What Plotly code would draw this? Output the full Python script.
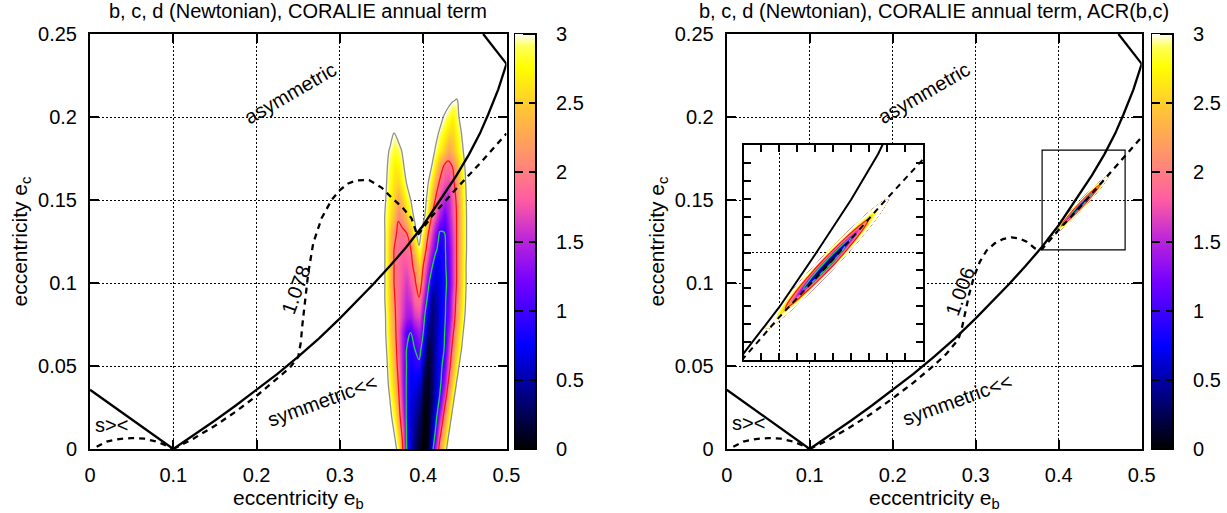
import numpy as np
import plotly.graph_objects as go

W, H = 1227, 513

# ---------------- axis ticks / labels ----------------
X_TICKS = [0, 0.1, 0.2, 0.3, 0.4, 0.5]
Y_TICKS = [0, 0.05, 0.1, 0.15, 0.2, 0.25]
CB_TICKS = [0, 0.5, 1, 1.5, 2, 2.5, 3]
CB_LABELS = ["0", "0.5", "1", "1.5", "2", "2.5", "3"]
TITLES = ["b, c, d (Newtonian), CORALIE annual term",
          "b, c, d (Newtonian), CORALIE annual term, ACR(b,c)"]

# ---------------- curves ----------------
EB_SOLID = [0.1, 0.125, 0.15, 0.175, 0.2, 0.225, 0.25, 0.275, 0.3, 0.32, 0.34, 0.36, 0.38,
            0.4, 0.42, 0.44, 0.455, 0.468, 0.478, 0.49, 0.5]
EC_SOLID = [0.0, 0.0085, 0.0172, 0.0262, 0.0355, 0.0453, 0.0556, 0.0667, 0.0787, 0.0887, 0.0992,
            0.1102, 0.1218, 0.1348, 0.1495, 0.1648, 0.1775, 0.19, 0.2015, 0.2165, 0.232]
EB_LEFTLINE = [0.0, 0.1]
EC_LEFTLINE = [0.0357, 0.0]
EB_TOPLINE = [0.472, 0.5]
EC_TOPLINE = [0.25, 0.232]
EB_SDASH = [0.008, 0.02, 0.035, 0.05, 0.065, 0.08, 0.09, 0.1]
EC_SDASH = [0.0014, 0.0045, 0.006, 0.0066, 0.0062, 0.0045, 0.0025, 0.0]

EB_D1078 = [0.1, 0.125, 0.15, 0.175, 0.2, 0.225, 0.24, 0.25, 0.253, 0.255, 0.258, 0.262, 0.268,
            0.278, 0.29, 0.3, 0.31, 0.32, 0.335, 0.35, 0.362, 0.375, 0.386, 0.393, 0.41, 0.44,
            0.468, 0.5]
EC_D1078 = [0.0, 0.0065, 0.014, 0.0225, 0.032, 0.0425, 0.049, 0.0555, 0.064, 0.075, 0.09, 0.106,
            0.124, 0.139, 0.15, 0.156, 0.16, 0.1618, 0.162, 0.1575, 0.1515, 0.1455, 0.139, 0.1285,
            0.14, 0.157, 0.172, 0.19]

EB_D1006 = [0.1, 0.125, 0.15, 0.175, 0.2, 0.225, 0.25, 0.265, 0.275, 0.28, 0.283, 0.287, 0.292,
            0.298, 0.305, 0.313, 0.323, 0.333, 0.343, 0.353, 0.3614, 0.371, 0.3775, 0.38, 0.4,
            0.428, 0.458, 0.48, 0.5]
EC_D1006 = [0.0, 0.0062, 0.0135, 0.0215, 0.0305, 0.04, 0.0505, 0.0575, 0.0635, 0.0675, 0.072,
            0.082, 0.093, 0.104, 0.1128, 0.1195, 0.1239, 0.1265, 0.1275, 0.1268, 0.1249, 0.121,
            0.1199, 0.1205, 0.132, 0.147, 0.164, 0.176, 0.188]

# ---------------- left panel field (grid) ----------------
EB_GRID = [0.350, 0.355, 0.360, 0.365, 0.370, 0.375, 0.380, 0.385, 0.390, 0.395, 0.400,
           0.405, 0.410, 0.415, 0.420, 0.425, 0.430, 0.435, 0.440, 0.445, 0.450, 0.455]
EC_GRID = [0.00, 0.01, 0.02, 0.03, 0.04, 0.05, 0.06, 0.07, 0.08, 0.09, 0.10, 0.11,
           0.12, 0.13, 0.14, 0.15, 0.16, 0.17, 0.18, 0.19, 0.20, 0.21, 0.22]
Z_LEFT = [
    [4, 4, 4, 3.4, 2.75, 2.1, 1, 0.6, 0.3, 0.12, 0, 0.05, 0.7, 1.5, 2.2, 2.7, 3.2, 3.7, 4, 4, 4, 4],
    [4, 4, 3.53, 3.0, 2.47, 1.9, 0.97, 0.62, 0.4, 0.2, 0.02, 0.05, 0.5, 1.08, 1.85, 2.4, 2.9, 3.4, 3.9, 4, 4, 4],
    [4, 3.64, 3.18, 2.73, 2.27, 1.67, 0.94, 0.64, 0.5, 0.3, 0.03, 0.05, 0.38, 0.83, 1.43, 2.1, 2.6, 3.1, 3.6, 4, 4, 4],
    [3.87, 3.43, 3.0, 2.57, 2.13, 1.53, 0.95, 0.68, 0.6, 0.45, 0.1, 0.06, 0.3, 0.63, 1.07, 1.73, 2.3, 2.8, 3.3, 3.8, 4, 4],
    [3.67, 3.25, 2.83, 2.42, 2.0, 1.44, 0.96, 0.72, 0.72, 0.65, 0.2, 0.08, 0.28, 0.55, 0.87, 1.38, 2.0, 2.5, 3.0, 3.5, 4, 4],
    [3.58, 3.17, 2.75, 2.33, 1.9, 1.43, 0.99, 0.78, 0.86, 0.88, 0.4, 0.11, 0.28, 0.55, 0.81, 1.18, 1.76, 2.27, 2.73, 3.18, 3.6, 4],
    [3.5, 3.08, 2.67, 2.25, 1.83, 1.42, 1.0, 0.85, 1.0, 1.19, 0.76, 0.15, 0.29, 0.52, 0.8, 1.0, 1.56, 2.08, 2.5, 2.92, 3.33, 3.75],
    [3.42, 3.0, 2.58, 2.17, 1.79, 1.43, 1.07, 0.99, 1.25, 1.42, 1.0, 0.4, 0.32, 0.5, 0.75, 0.94, 1.37, 1.89, 2.33, 2.75, 3.17, 3.58],
    [3.43, 2.98, 2.54, 2.09, 1.84, 1.63, 1.42, 1.39, 1.62, 1.7, 1.2, 0.65, 0.34, 0.45, 0.7, 0.9, 1.2, 1.7, 2.17, 2.58, 3.0, 3.42],
    [3.35, 2.91, 2.48, 2.04, 1.85, 1.68, 1.52, 1.6, 1.85, 1.95, 1.47, 0.95, 0.4, 0.47, 0.68, 0.9, 1.14, 1.67, 2.08, 2.5, 2.92, 3.33],
    [3.36, 2.91, 2.45, 2.0, 1.87, 1.73, 1.6, 1.77, 1.93, 2.3, 1.78, 1.22, 0.7, 0.58, 0.7, 0.87, 1.09, 1.55, 2.0, 2.43, 2.87, 3.3],
    [3.36, 2.91, 2.45, 2.0, 1.88, 1.77, 1.75, 1.89, 2.11, 2.55, 2.0, 1.55, 1.09, 0.62, 0.75, 0.9, 1.13, 1.57, 2.0, 2.43, 2.87, 3.3],
    [3.36, 2.91, 2.45, 2.0, 1.89, 1.82, 1.88, 1.98, 2.45, 2.9, 2.33, 1.85, 1.46, 1.08, 0.79, 0.91, 1.17, 1.58, 2.0, 2.42, 2.83, 3.25],
    [3.33, 2.92, 2.5, 2.08, 1.95, 1.91, 1.99, 2.36, 2.82, 3.3, 2.67, 2.11, 1.69, 1.31, 0.95, 0.98, 1.29, 1.64, 2.0, 2.42, 2.83, 3.25],
    [3.23, 2.93, 2.65, 2.37, 2.02, 2.19, 2.48, 2.77, 3.1, 3.6, 3.2, 2.63, 2.0, 1.72, 1.43, 1.15, 1.43, 1.72, 2.0, 2.42, 2.83, 3.25],
    [3.25, 3.0, 2.75, 2.5, 2.25, 2.5, 2.75, 3.0, 3.3, 3.6, 3.3, 2.9, 2.4, 1.95, 1.7, 1.45, 1.51, 1.77, 2.04, 2.46, 2.87, 3.25],
    [3.27, 3.05, 2.82, 2.59, 2.54, 2.77, 3.0, 3.25, 3.5, 3.6, 3.5, 3.08, 2.67, 2.25, 1.92, 1.72, 1.68, 1.88, 2.15, 2.54, 2.92, 3.3],
    [3.28, 3.08, 2.88, 2.68, 2.72, 2.92, 3.12, 3.32, 3.5, 3.6, 3.6, 3.38, 3.0, 2.62, 2.23, 1.95, 1.86, 2.0, 2.33, 2.67, 3.0, 3.33],
    [3.24, 3.11, 2.97, 2.84, 2.89, 3.03, 3.2, 3.35, 3.5, 3.6, 3.6, 3.42, 3.19, 2.95, 2.72, 2.48, 2.25, 2.39, 2.62, 2.86, 3.09, 3.33],
    [3.5, 3.35, 3.15, 2.98, 3.1, 3.3, 3.45, 3.55, 3.6, 3.6, 3.6, 3.5, 3.35, 3.12, 2.93, 2.74, 2.56, 2.53, 2.75, 2.96, 3.17, 3.38],
    [3.6, 3.5, 3.4, 3.3, 3.3, 3.4, 3.5, 3.6, 3.6, 3.6, 3.6, 3.6, 3.5, 3.35, 3.15, 2.97, 2.84, 2.7, 2.89, 3.08, 3.27, 3.45],
    [3.6, 3.6, 3.6, 3.6, 3.6, 3.6, 3.6, 3.6, 3.6, 3.6, 3.6, 3.6, 3.6, 3.55, 3.4, 3.25, 3.12, 3.03, 2.98, 3.06, 3.2, 3.35],
    [3.6, 3.6, 3.6, 3.6, 3.6, 3.6, 3.6, 3.6, 3.6, 3.6, 3.6, 3.6, 3.6, 3.6, 3.6, 3.5, 3.3, 3.2, 3.2, 3.3, 3.45, 3.6],
]

# ---------------- right panel: ACR ellipse (rows along its axis) ----------------
ACR_EC = [0.1288, 0.1324, 0.136, 0.1396, 0.1432, 0.1468, 0.1504, 0.154, 0.1576, 0.1612, 0.1648]
ACR_EB = [0.3931, 0.3998, 0.4064, 0.4131, 0.4198, 0.4265, 0.4331, 0.4398, 0.4465, 0.4531, 0.4598]
ACR_HALF = [0.0012, 0.0036, 0.0048, 0.0056, 0.0061, 0.0063, 0.0061, 0.0056, 0.0048, 0.0036, 0.0012]
ACR_CROSS = [-1, -0.67, -0.33, 0, 0.33, 0.67, 1]
ACR_Z = [
    [3.05, 2.95, 2.88, 2.85, 2.88, 2.95, 3.05],
    [3.05, 2.75, 2.5, 2.35, 2.5, 2.75, 3.05],
    [3.05, 2.45, 2.0, 1.7, 2.0, 2.45, 3.05],
    [3.05, 2.25, 1.5, 1.0, 1.5, 2.25, 3.05],
    [3.05, 2.1, 1.15, 0.35, 1.15, 2.1, 3.05],
    [3.05, 2.0, 1.0, 0.05, 1.0, 2.0, 3.05],
    [3.05, 2.1, 1.15, 0.35, 1.15, 2.1, 3.05],
    [3.05, 2.25, 1.5, 1.0, 1.5, 2.25, 3.05],
    [3.05, 2.45, 2.0, 1.7, 2.0, 2.45, 3.05],
    [3.05, 2.75, 2.5, 2.35, 2.5, 2.75, 3.05],
    [3.05, 2.95, 2.88, 2.85, 2.88, 2.95, 3.05],
]
INSET_X_RANGE = [0.38, 0.48]
INSET_Y_RANGE = [0.12, 0.18]

# ---------------- styling ----------------
FONT_FAMILY = "Liberation Sans, Arial, sans-serif"
FS = 20
FS_AXT = 21
PAL_STOPS = [(0.0, (0, 0, 0)), (0.1, (0, 0, 102)), (0.2, (0, 0, 204)), (0.25, (0, 0, 255)),
             (0.3, (40, 0, 255)), (0.4, (115, 0, 255)), (0.5, (185, 35, 220)),
             (0.6, (255, 92, 163)), (0.7, (255, 143, 112)), (0.8, (255, 188, 62)),
             (0.88, (255, 232, 20)), (0.92, (255, 255, 0)), (0.97, (255, 255, 90)),
             (1.0, (255, 255, 255))]
ZMAX_T = 3.6
PAL = [[s, "rgb(%d,%d,%d)" % c] for s, c in PAL_STOPS]
PAL_T = [[s * 3 / ZMAX_T, "rgba(%d,%d,%d,1)" % c] for s, c in PAL_STOPS] + \
        [[3 / ZMAX_T + 1e-4, "rgba(255,255,255,0)"], [1.0, "rgba(255,255,255,0)"]]


def fx(px):
    return px / W


def fy(py):
    return 1 - py / H


LEFT_X = [fx(90), fx(506.5)]
RIGHT_X = [fx(726.7), fx(1141.7)]
MAIN_Y = [fy(449), fy(34)]
INSET_DX = [fx(743.5), fx(923)]
INSET_DY = [fy(360), fy(145)]

fig = go.Figure()

LW = 2.3
DASH = "6px,5px"


def add_curves(xa, ya, deb, dec, lw=LW):
    for xs, ys, dash in [(EB_LEFTLINE, EC_LEFTLINE, None), (EB_TOPLINE, EC_TOPLINE, None),
                         (EB_SDASH, EC_SDASH, DASH), (deb, dec, DASH),
                         (EB_SOLID, EC_SOLID, None)]:
        fig.add_trace(go.Scatter(x=xs, y=ys, mode="lines", xaxis=xa, yaxis=ya,
                                 line=dict(color="black", width=lw, dash=dash),
                                 hoverinfo="skip", showlegend=False))


# ---- left panel field
fig.add_trace(go.Heatmap(x=EB_GRID, y=EC_GRID, z=Z_LEFT, zsmooth="best", zmin=0, zmax=ZMAX_T,
                         colorscale=PAL_T, showscale=False, xaxis="x", yaxis="y",
                         hoverinfo="skip"))
for lev, col in [(3, "#8f8f8f"), (2, "#ff1010"), (1, "#18d848")]:
    fig.add_trace(go.Contour(x=EB_GRID, y=EC_GRID, z=Z_LEFT, xaxis="x", yaxis="y",
                             autocontour=False,
                             contours=dict(start=lev, end=lev, size=1, coloring="none"),
                             line=dict(color=col, width=1.3, smoothing=1.0),
                             showscale=False, hoverinfo="skip"))
add_curves("x", "y", EB_D1078, EC_D1078)

# ---- right panel ellipse (carpet built from the read rows)
cx = np.array(ACR_EB)[:, None] + np.array(ACR_HALF)[:, None] * np.array(ACR_CROSS)[None, :]
cy = np.array(ACR_EC)[:, None] + 0 * np.array(ACR_CROSS)[None, :]
hidden_ax = dict(showgrid=False, showline=False, showticklabels="none", startline=False,
                 endline=False, minorgridcount=0, smoothing=1)
for cid, xa, ya, lw in [("acr2", "x2", "y2", 1.0), ("acr3", "x3", "y3", 1.2)]:
    fig.add_trace(go.Carpet(carpet=cid, a=ACR_CROSS, b=list(range(len(ACR_EC))),
                            x=cx.tolist(), y=cy.tolist(), xaxis=xa, yaxis=ya,
                            aaxis=hidden_ax, baxis=hidden_ax))
    fig.add_trace(go.Contourcarpet(carpet=cid, z=ACR_Z, xaxis=xa, yaxis=ya, autocontour=False,
                                   contours=dict(start=0.1, end=3.0, size=0.1, coloring="fill",
                                                 showlines=False),
                                   line=dict(width=0), zmin=0, zmax=ZMAX_T, zauto=False,
                                   colorscale=PAL_T, showscale=False))
    for lev, col in [(2, "#ff1010"), (1, "#18d848")]:
        fig.add_trace(go.Contourcarpet(carpet=cid, z=ACR_Z, xaxis=xa, yaxis=ya,
                                       autocontour=False,
                                       contours=dict(start=lev, end=lev, size=1,
                                                     coloring="none"),
                                       line=dict(color=col, width=lw), showscale=False))
add_curves("x2", "y2", EB_D1006, EC_D1006)
add_curves("x3", "y3", EB_D1006, EC_D1006, lw=2.0)

# ---- colorbars (dummy invisible markers carrying the scale)
#      a full bar with inside ticks on its right edge, plus a thin twin bar over its
#      left edge whose inside ticks give the left-hand tick marks
for xa, ya, bx in [("x", "y", 515), ("x2", "y2", 1151.5)]:
    for thick, outline, tv in [(21, 2, CB_TICKS), (8, 0, CB_TICKS[1:-1])]:
        fig.add_trace(go.Scatter(
            x=[0.25], y=[0.125], xaxis=xa, yaxis=ya, mode="markers",
            hoverinfo="skip", showlegend=False,
            marker=dict(size=1, opacity=0, color=[0], cmin=0, cmax=3, colorscale=PAL,
                        showscale=True,
                        colorbar=dict(x=fx(bx), xanchor="left", xpad=0, y=MAIN_Y[0],
                                      yanchor="bottom", ypad=0, len=MAIN_Y[1] - MAIN_Y[0],
                                      lenmode="fraction", thickness=thick,
                                      outlinewidth=outline, outlinecolor="black",
                                      ticks="inside", ticklen=8, tickwidth=1.5,
                                      tickcolor="black", tickvals=tv,
                                      showticklabels=False))))


# ---------------- axes ----------------
def main_axis(domain, anchor, rng, ticks):
    return dict(domain=domain, anchor=anchor, range=rng, tickvals=ticks,
                ticks="inside", ticklen=9, tickwidth=2, tickcolor="black",
                showline=True, linewidth=2, linecolor="black", mirror="ticks",
                showgrid=True, gridcolor="black", gridwidth=1, griddash="2px,2px",
                zeroline=False, tickfont=dict(family=FONT_FAMILY, size=FS, color="black"),
                ticklabelstandoff=7, fixedrange=True, automargin=False)


def inset_axis(domain, anchor, rng, t0, minor_dt, minor_t0):
    return dict(domain=domain, anchor=anchor, range=rng, tick0=t0, dtick=0.1,
                ticks="inside", ticklen=7, tickwidth=1.5, tickcolor="black",
                showticklabels=False, showline=True, linewidth=2, linecolor="black",
                mirror="ticks", showgrid=True, gridcolor="black", gridwidth=1,
                griddash="2px,2px", zeroline=False, fixedrange=True, automargin=False,
                minor=dict(dtick=minor_dt, tick0=minor_t0, ticks="inside", ticklen=7,
                           tickwidth=1.5, tickcolor="black", showgrid=False))


fig.update_layout(
    width=W, height=H, autosize=False,
    margin=dict(l=0, r=0, t=0, b=0, pad=0, autoexpand=False),
    plot_bgcolor="white", paper_bgcolor="white", showlegend=False,
    font=dict(family=FONT_FAMILY, size=FS, color="black"),
    xaxis=main_axis(LEFT_X, "y", [0, 0.5], X_TICKS),
    yaxis=main_axis(MAIN_Y, "x", [0, 0.25], Y_TICKS),
    xaxis2=main_axis(RIGHT_X, "y2", [0, 0.5], X_TICKS),
    yaxis2=main_axis(MAIN_Y, "x2", [0, 0.25], Y_TICKS),
    xaxis3=inset_axis(INSET_DX, "y3", INSET_X_RANGE, 0.4, 0.01, 0.38),
    yaxis3=inset_axis(INSET_DY, "x3", INSET_Y_RANGE, 0.15, 0.005, 0.12),
)

# box marking the inset region
fig.add_shape(type="rect", xref="x2", yref="y2", x0=INSET_X_RANGE[0], x1=INSET_X_RANGE[1],
              y0=INSET_Y_RANGE[0], y1=INSET_Y_RANGE[1], line=dict(color="black", width=1.2),
              layer="above")

# ---------------- annotations ----------------
ann = []
for cxp, t in [(298, TITLES[0]), (934, TITLES[1])]:
    ann.append(dict(x=fx(cxp), y=fy(11.5), xref="paper", yref="paper", text=t,
                    showarrow=False, xanchor="center", yanchor="middle"))
for cxp, ytx in [(298, 20), (934, 657)]:
    ann.append(dict(x=fx(cxp), y=fy(499), xref="paper", yref="paper",
                    text="eccentricity e<sub>b</sub>", showarrow=False,
                    xanchor="center", yanchor="middle", font=dict(size=FS_AXT)))
    ann.append(dict(x=fx(ytx), y=fy(241.5), xref="paper", yref="paper",
                    text="eccentricity e<sub>c</sub>", showarrow=False, textangle=-90,
                    xanchor="center", yanchor="middle", font=dict(size=FS_AXT)))
# colorbar labels
for bx in [515, 1151.5]:
    for v, lab in zip(CB_TICKS, CB_LABELS):
        ypx = 449 - v / 3 * 415
        ann.append(dict(x=fx(bx + 22 + 17), y=fy(ypx), xref="paper", yref="paper", text=lab,
                        showarrow=False, xanchor="left", yanchor="middle"))
# in-plot labels
for xa, ya, lab, pos in [("x", "y", "1.078", (0.247, 0.0958)), ("x2", "y2", "1.006", (0.2806, 0.0948))]:
    ann.append(dict(x=pos[0], y=pos[1], xref=xa, yref=ya, text=lab, showarrow=False,
                    textangle=-70))
for xa, ya, ax_pos, sym_pos, s_pos in [("x", "y", (0.2406, 0.2146), (0.278, 0.029), (0.026, 0.0145)),
                                       ("x2", "y2", (0.2377, 0.2143), (0.277, 0.0295), (0.026, 0.0157))]:
    ann.append(dict(x=ax_pos[0], y=ax_pos[1], xref=xa, yref=ya, text="asymmetric",
                    showarrow=False, textangle=-30))
    ann.append(dict(x=sym_pos[0], y=sym_pos[1], xref=xa, yref=ya, text="symmetric&lt;&lt;",
                    showarrow=False, textangle=-20))
    ann.append(dict(x=s_pos[0], y=s_pos[1], xref=xa, yref=ya, text="s&gt;&lt;",
                    showarrow=False))
fig.update_layout(annotations=ann)

fig.write_html("out.html", config={"displayModeBar": False},
               post_script="document.body.style.margin='0';")
